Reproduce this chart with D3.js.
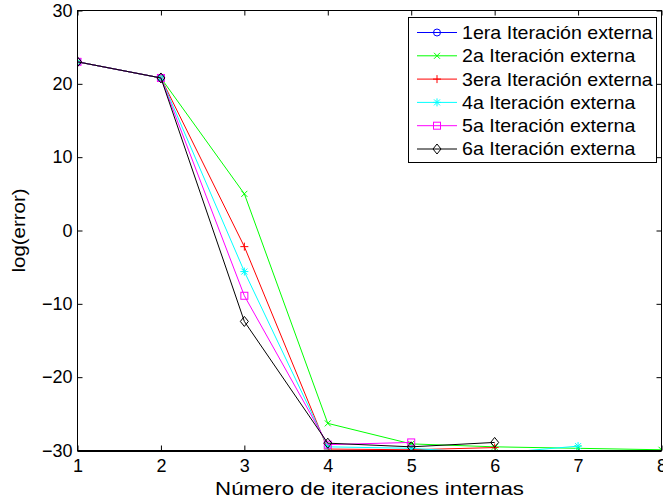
<!DOCTYPE html>
<html>
<head>
<meta charset="utf-8">
<script src="https://cdn.jsdelivr.net/npm/d3@7"></script>
<style>
  html, body { margin: 0; padding: 0; background: #fff; }
  svg { display: block; font-family: "Liberation Sans", Arial, sans-serif; }
</style>
</head>
<body>
<svg id="chart" width="663" height="501"></svg>
<script>
// Inner iteration numbers
const iterations = [1, 2, 3, 4, 5, 6, 7, 8];

// log(error) per outer iteration
const serie1 = [23.0, 20.8];
const serie2 = [23.0, 20.8, 5.0, -26.3, -29.1, -29.5, -29.7, -29.9];
const serie3 = [23.0, 20.8, -2.2, -29.8, -29.9, -29.6];
const serie4 = [23.0, 20.8, -5.6, -29.5, -29.7, -30.4, -29.4];
const serie5 = [23.0, 20.8, -8.9, -29.2, -28.9];
const serie6 = [23.0, 20.8, -12.4, -29.0, -29.5, -28.9];

const legendLabels = [
  "1era Iteración externa",
  "2a Iteración externa",
  "3era Iteración externa",
  "4a Iteración externa",
  "5a Iteración externa",
  "6a Iteración externa"
];
const colors = ["#0000ff", "#00ff00", "#ff0000", "#00ffff", "#ff00ff", "#000000"];
const markers = ["circle", "x", "plus", "star", "square", "diamond"];

const xTicks = [1, 2, 3, 4, 5, 6, 7, 8];
const yTicks = [-30, -20, -10, 0, 10, 20, 30];

const series = [serie1, serie2, serie3, serie4, serie5, serie6].map((vals, i) => ({
  name: legendLabels[i],
  color: colors[i],
  marker: markers[i],
  points: vals.map((v, j) => ({ x: iterations[j], y: v }))
}));

const svg = d3.select("#chart");
const margin = { left: 77.5, right: 661.5, top: 10.5, bottom: 450.5 };

const x = d3.scaleLinear().domain([1, 8]).range([margin.left, margin.right]);
const y = d3.scaleLinear().domain([-30, 30]).range([margin.bottom, margin.top]);

const fmt = d => (d < 0 ? "\u2212" + Math.abs(d) : String(d));

// clip region for the plotted data
svg.append("defs").append("clipPath").attr("id", "plotclip")
  .append("rect")
  .attr("x", margin.left).attr("y", margin.top)
  .attr("width", margin.right - margin.left)
  .attr("height", margin.bottom - margin.top);

// axes with inward ticks on all four sides
const tickLen = 5;
const axisBottom = d3.axisBottom(x).tickValues(xTicks).tickSize(-tickLen).tickPadding(9).tickFormat(d => d);
const axisTop = d3.axisTop(x).tickValues(xTicks).tickSize(-tickLen).tickFormat("");
const axisLeft = d3.axisLeft(y).tickValues(yTicks).tickSize(-tickLen).tickPadding(5).tickFormat(fmt);
const axisRight = d3.axisRight(y).tickValues(yTicks).tickSize(-tickLen).tickFormat("");

function styleAxis(g) {
  g.select(".domain").remove();
  g.selectAll(".tick line").attr("stroke", "#000").attr("stroke-width", 1);
  g.selectAll(".tick text").attr("fill", "#000").style("font-size", "18px");
}

svg.append("g").attr("transform", `translate(0,${margin.bottom})`).call(axisBottom).call(styleAxis);
svg.append("g").attr("transform", `translate(0,${margin.top})`).call(axisTop).call(styleAxis);
svg.append("g").attr("transform", `translate(${margin.left},0)`).call(axisLeft).call(styleAxis);
svg.append("g").attr("transform", `translate(${margin.right},0)`).call(axisRight).call(styleAxis);

// marker shapes
function drawMarker(g, type, cx, cy, color) {
  if (type === "circle") {
    g.append("circle").attr("cx", cx).attr("cy", cy).attr("r", 3.5)
      .attr("fill", "none").attr("stroke", color).attr("stroke-width", 1);
  } else if (type === "x") {
    const p = d3.path();
    p.moveTo(cx - 3, cy - 3); p.lineTo(cx + 3, cy + 3);
    p.moveTo(cx - 3, cy + 3); p.lineTo(cx + 3, cy - 3);
    g.append("path").attr("d", p).attr("stroke", color).attr("stroke-width", 1).attr("fill", "none");
  } else if (type === "plus") {
    const p = d3.path();
    p.moveTo(cx - 4, cy); p.lineTo(cx + 4, cy);
    p.moveTo(cx, cy - 4); p.lineTo(cx, cy + 4);
    g.append("path").attr("d", p).attr("stroke", color).attr("stroke-width", 1).attr("fill", "none");
  } else if (type === "star") {
    const p = d3.path();
    p.moveTo(cx - 4, cy); p.lineTo(cx + 4, cy);
    p.moveTo(cx, cy - 4); p.lineTo(cx, cy + 4);
    p.moveTo(cx - 3, cy - 3); p.lineTo(cx + 3, cy + 3);
    p.moveTo(cx - 3, cy + 3); p.lineTo(cx + 3, cy - 3);
    g.append("path").attr("d", p).attr("stroke", color).attr("stroke-width", 1).attr("fill", "none");
  } else if (type === "square") {
    g.append("rect").attr("x", cx - 3.5).attr("y", cy - 3.5).attr("width", 7).attr("height", 7)
      .attr("fill", "none").attr("stroke", color).attr("stroke-width", 1);
  } else if (type === "diamond") {
    const p = d3.path();
    p.moveTo(cx, cy - 5); p.lineTo(cx + 4, cy); p.lineTo(cx, cy + 5); p.lineTo(cx - 4, cy); p.closePath();
    g.append("path").attr("d", p).attr("stroke", color).attr("stroke-width", 1).attr("fill", "none");
  }
}

const line = d3.line().x(d => x(d.x)).y(d => y(d.y));
const plot = svg.append("g").attr("clip-path", "url(#plotclip)");

series.forEach(s => {
  const g = plot.append("g");
  g.append("path").datum(s.points).attr("d", line)
    .attr("fill", "none").attr("stroke", s.color).attr("stroke-width", 1);
  s.points.forEach(p => drawMarker(g, s.marker, x(p.x), y(p.y), s.color));
});

// axes box, with a heavier baseline at the bottom
svg.append("rect")
  .attr("x", margin.left).attr("y", margin.top)
  .attr("width", margin.right - margin.left)
  .attr("height", margin.bottom - margin.top)
  .attr("fill", "none").attr("stroke", "#000").attr("stroke-width", 1);
svg.append("line")
  .attr("x1", margin.left).attr("x2", margin.right)
  .attr("y1", margin.bottom + 0.5).attr("y2", margin.bottom + 0.5)
  .attr("stroke", "#000").attr("stroke-width", 2);

// text widened horizontally to a given width, anchored at (ax, ay)
function wideText(parent, str, ax, ay, size, anchor, targetWidth, rotate) {
  const g = parent.append("g");
  const t = g.append("text").style("font-size", size + "px").attr("fill", "#000")
    .attr("text-anchor", anchor).attr("dy", anchor === "start" ? "0.36em" : null).text(str);
  const k = targetWidth / t.node().getComputedTextLength();
  g.attr("transform", `translate(${ax},${ay})` + (rotate ? " rotate(-90)" : "") + ` scale(${k},1)`);
  return g;
}

// axis titles
wideText(svg, "Número de iteraciones internas", (margin.left + margin.right) / 2, 494.5, 18, "middle", 309, false);
wideText(svg, "log(error)", 25, (margin.top + margin.bottom) / 2, 18, "middle", 84, true);

// legend
const legend = svg.append("g");
legend.append("rect")
  .attr("x", 408.5).attr("y", 17.5).attr("width", 248).attr("height", 145)
  .attr("fill", "#fff").attr("stroke", "#000").attr("stroke-width", 1);

series.forEach((s, i) => {
  const cy = 32.5 + i * 23.3;
  legend.append("line").attr("x1", 417).attr("x2", 457).attr("y1", cy).attr("y2", cy)
    .attr("stroke", s.color).attr("stroke-width", 1);
  drawMarker(legend, s.marker, 437, cy, s.color);
  const probe = legend.append("text").style("font-size", "18px").text(s.name);
  const w = probe.node().getComputedTextLength();
  probe.remove();
  wideText(legend, s.name, 462, cy, 18, "start", w * 1.09, false);
});
</script>
</body>
</html>
